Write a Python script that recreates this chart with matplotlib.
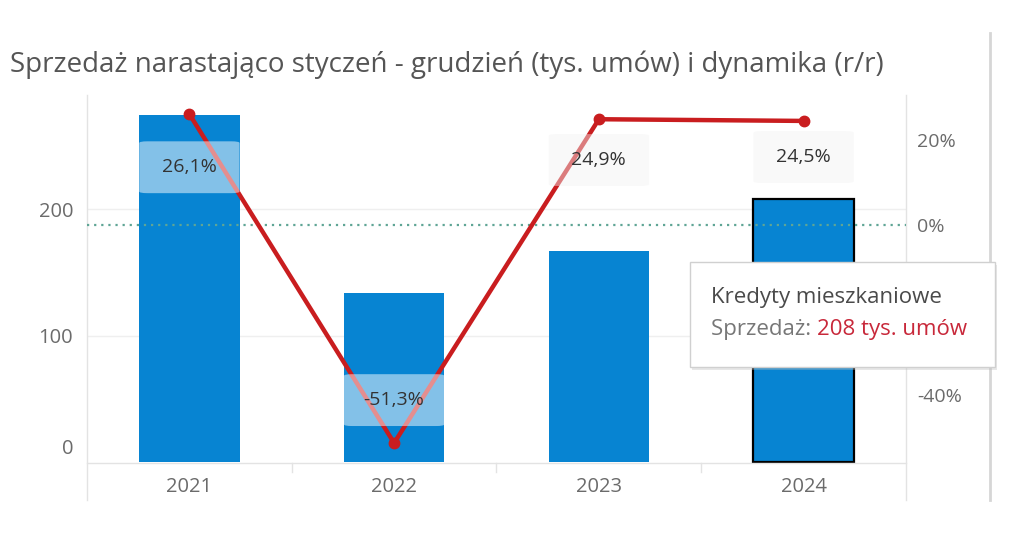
"""Sales YTD (thousand contracts) bars with y/y dynamics line, Tableau-like look."""

import matplotlib

matplotlib.use("Agg")
import matplotlib.pyplot as plt
from matplotlib.patches import FancyBboxPatch, Rectangle
from matplotlib.lines import Line2D
import matplotlib.transforms as mtrans
import numpy as np

plt.rcParams["font.family"] = ["Open Sans", "DejaVu Sans"]

years = ["2021", "2022", "2023", "2024"]
sales = [274.5, 133.7, 167.0, 208.0]          # tys. umów
dynamics = [26.1, -51.3, 24.9, 24.5]          # % r/r
dyn_labels = ["26,1%", "-51,3%", "24,9%", "24,5%"]
left_ticks = [0, 100, 200]
right_ticks = [20, 0, -40]                    # -20% sits under the tooltip

BLUE = "#0784d2"
RED = "#c91d1f"
GREY_TXT = "#6b6b6b"

# label centre offsets from the line point (in % units) and box fills
label_offsets = [-12.5, 10.1, -9.6, -8.5]
box_faces = [("white", 0.5), ("white", 0.5), ("#f2f2f2", 0.45), ("#f2f2f2", 0.45)]

fig = plt.figure(figsize=(10.24, 5.38), dpi=100)
ax = fig.add_axes([87 / 1024, 1 - 463 / 538, (906 - 87) / 1024, (463 - 95) / 538])
ax2 = ax.twinx()

x = np.arange(len(years))
bars = ax.bar(x, sales, width=0.49, color=BLUE, zorder=2)
bars[-1].set_edgecolor("black")
bars[-1].set_linewidth(1.6)

ax.set_xlim(-0.5, 3.5)
ax.set_ylim(-0.8, 290.3)
ax2.set_ylim(-56.0, 30.6)

for v in [100, 200]:
    ax.axhline(v, color="#efefef", lw=1, zorder=0)

ax.set_yticks(left_ticks)
ax.set_yticklabels([str(t) for t in left_ticks], color=GREY_TXT, fontsize=14.5)
ax.tick_params(axis="y", length=0, pad=10)
zero_lbl = ax.get_yticklabels()[0]
zero_lbl.set_transform(zero_lbl.get_transform() +
                       mtrans.ScaledTranslation(0, 15 / 100, fig.dpi_scale_trans))

ax.set_xticks(x)
ax.set_xticklabels(years, color=GREY_TXT, fontsize=14.5)
ax.tick_params(axis="x", length=0, pad=10)

ax2.set_yticks(right_ticks)
ax2.set_yticklabels([f"{t}%" for t in right_ticks], color=GREY_TXT, fontsize=14)
ax2.tick_params(axis="y", length=0, pad=8)

for a in (ax, ax2):
    for s in a.spines.values():
        s.set_visible(False)
ax2.set_zorder(ax.get_zorder() + 1)
ax2.patch.set_visible(False)

# zero reference line for the dynamics axis
ax2.axhline(0, color="#5fa595", lw=1.6, ls=(0, (1, 2.2)), zorder=1)

# dynamics line
ax2.plot(x, dynamics, color=RED, lw=3.2, marker="o", ms=7.5, zorder=3,
         solid_capstyle="round")

# value labels with semi-transparent boxes
box_h = 12.2
for i, (val, lab, off) in enumerate(zip(dynamics, dyn_labels, label_offsets)):
    yc = val + off
    fc, alpha = box_faces[i]
    ax2.add_patch(FancyBboxPatch((x[i] - 0.245, yc - box_h / 2), 0.49, box_h,
                                 boxstyle="round,pad=0,rounding_size=0.04",
                                 mutation_aspect=box_h / 0.49 * 0.4,
                                 facecolor=fc, alpha=alpha, edgecolor="none", zorder=4))
    ax2.text(x[i], yc, lab, ha="center", va="center", fontsize=14,
             color="#333333", zorder=5)

# frame lines, Tableau style
frame = dict(color="#e3e3e3", lw=1, transform=fig.transFigure, zorder=0.5)
fig.add_artist(Line2D([87 / 1024] * 2, [1 - 500 / 538, 1 - 95 / 538], **frame))
fig.add_artist(Line2D([906 / 1024] * 2, [1 - 500 / 538, 1 - 95 / 538], **frame))
fig.add_artist(Line2D([87 / 1024, 906 / 1024], [1 - 463 / 538] * 2, **frame))
for xs in [292, 496, 701]:
    fig.add_artist(Line2D([xs / 1024] * 2, [1 - 463 / 538, 1 - 472 / 538], **frame))
fig.add_artist(Line2D([990 / 1024] * 2, [1 - 500 / 538, 1 - 33 / 538],
                      color="#d6d6d6", lw=2, transform=fig.transFigure))

fig.text(10 / 1024, 1 - 65 / 538,
         "Sprzedaż narastająco styczeń - grudzień (tys. umów) i dynamika (r/r)",
         fontsize=20, color="#555555", va="center", ha="left")

# tooltip
tx0, tx1, ty0, ty1 = 690, 995, 262, 367
fig.add_artist(Rectangle((tx0 / 1024 + 0.002, 1 - (ty1 + 3) / 538),
                         (tx1 - tx0) / 1024, (ty1 - ty0) / 538,
                         transform=fig.transFigure, facecolor="#bbbbbb",
                         alpha=0.35, edgecolor="none", zorder=9))
fig.add_artist(Rectangle((tx0 / 1024, 1 - ty1 / 538), (tx1 - tx0) / 1024,
                         (ty1 - ty0) / 538, transform=fig.transFigure,
                         facecolor="white", edgecolor="#d0d0d0", lw=1, zorder=10))
fig.text(711 / 1024, 1 - 298 / 538, "Kredyty mieszkaniowe", fontsize=16,
         color="#4a4a4a", va="center", ha="left", zorder=11)
t1 = fig.text(711 / 1024, 1 - 330 / 538, "Sprzedaż: ", fontsize=16,
              color="#777777", va="center", ha="left", zorder=11)
fig.add_artist(plt.Annotation("208 tys. umów", xy=(1, 0), xycoords=t1,
                              va="bottom", ha="left", fontsize=16,
                              color="#c8283a", zorder=11))

fig.savefig("out.png", dpi=100)
